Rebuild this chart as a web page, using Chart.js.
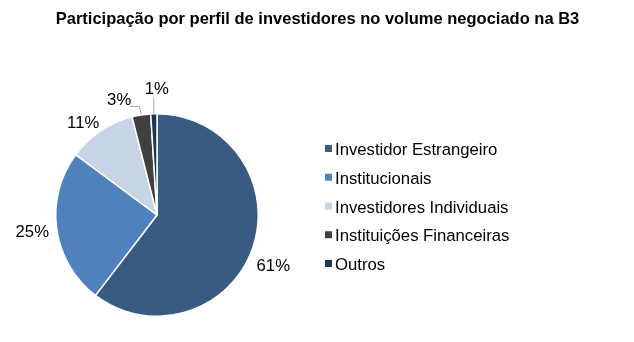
<!DOCTYPE html>
<html><head><meta charset="utf-8">
<script src="https://cdn.jsdelivr.net/npm/chart.js@4/dist/chart.umd.min.js"></script>
<style>html,body{margin:0;padding:0;background:#fff}#wrap{width:634px;height:342px}</style>
</head><body><div id="wrap"><canvas id="c" width="634" height="342"></canvas></div>
<script>
const title = 'Participação por perfil de investidores no volume negociado na B3';
const categories = ['Investidor Estrangeiro','Institucionais','Investidores Individuais','Instituições Financeiras','Outros'];
const values = [61, 25, 11, 3, 1];
const colors = ['#395B82','#4F81BD','#C6D4E5','#404040','#1F3553'];

const FONT = '"Liberation Sans", Arial, sans-serif';

const drawer = {
  id: 'drawer',
  afterDraw(chart, args, opts) {
    const ctx = chart.ctx;
    ctx.save();
    // title
    ctx.fillStyle = '#000';
    ctx.font = 'bold 16.5px ' + FONT;
    ctx.textAlign = 'center'; ctx.textBaseline = 'alphabetic';
    ctx.fillText(title, 317.5, 24);
    // labels
    const meta = chart.getDatasetMeta(0);
    ctx.font = '16.7px ' + FONT;
    ctx.textBaseline = 'middle';
    meta.data.forEach((arc, i) => {
      const {x, y, startAngle, endAngle, outerRadius} = arc.getProps(['x','y','startAngle','endAngle','outerRadius'], true);
      const mid = (startAngle + endAngle) / 2;
      const txt = values[i] + '%';
      const nudge = opts.nudge[i] || [0, 0];
      if (values[i] >= 5) {
        const w = ctx.measureText(txt).width, h = 12, g = 8;
        const cx = x + (outerRadius + g) * Math.cos(mid) + Math.cos(mid) * w / 2 + nudge[0];
        const cy = y + (outerRadius + g) * Math.sin(mid) + Math.sin(mid) * h / 2 + nudge[1];
        ctx.textAlign = 'center';
        ctx.fillText(txt, cx, cy + 1);
      } else {
        const p0x = x + (outerRadius + 0.5) * Math.cos(mid);
        const p0y = y + (outerRadius + 0.5) * Math.sin(mid);
        ctx.strokeStyle = '#A6A6A6'; ctx.lineWidth = 1;
        ctx.beginPath();
        if (values[i] >= 2) {
          ctx.moveTo(p0x, p0y); ctx.lineTo(p0x - 2, p0y - 8); ctx.lineTo(p0x - 11, p0y - 8); ctx.stroke();
          ctx.textAlign = 'right';
          ctx.fillText(txt, p0x - 10, p0y - 14);
        } else {
          ctx.moveTo(p0x, p0y); ctx.lineTo(p0x, p0y - 16); ctx.stroke();
          ctx.textAlign = 'center';
          ctx.fillText(txt, p0x + 3, p0y - 24);
        }
      }
    });
    // legend
    const lx = 325, ly0 = 155, step = 28.75;
    ctx.textAlign = 'left'; ctx.textBaseline = 'alphabetic';
    categories.forEach((c, i) => {
      const yy = ly0 + i * step;
      ctx.fillStyle = colors[i];
      ctx.fillRect(lx, yy - 10, 7, 7);
      ctx.fillStyle = '#000';
      ctx.fillText(c, lx + 10, yy);
    });
    ctx.restore();
  }
};

new Chart(document.getElementById('c'), {
  type: 'pie',
  data: { labels: categories, datasets: [{ data: values, backgroundColor: colors, borderColor: '#fff', borderWidth: 1.5 }] },
  options: {
    responsive: false, animation: false,
    layout: { padding: { top: 113, bottom: 25, left: 55, right: 375 } },
    plugins: { legend: { display: false }, title: { display: false }, tooltip: { enabled: false },
      drawer: { nudge: [[-3, 13], [0, 0], [-4, 3]] } }
  },
  plugins: [drawer]
});
</script></body></html>
